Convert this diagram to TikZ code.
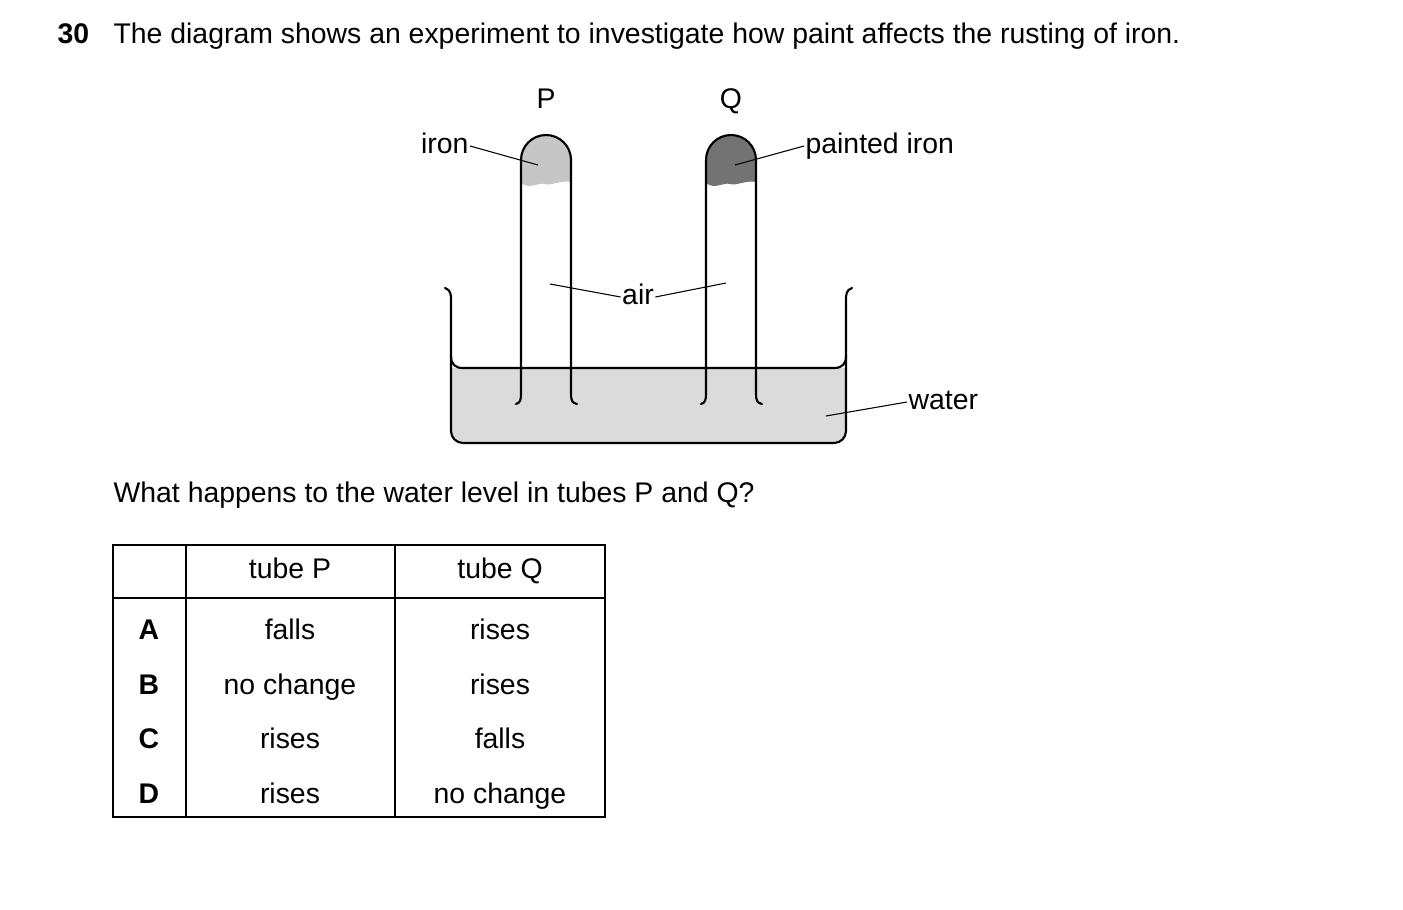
\documentclass[tikz,border=0pt]{standalone}
\usepackage{fontspec}
\setmainfont{Liberation Sans}
\begin{document}
\begin{tikzpicture}[x=0.75pt,y=-0.75pt,
  ln/.style={line width=1.6pt,line cap=round,line join=round},
  lead/.style={line width=0.8pt},
  txt/.style={font=\fontsize{21.3}{25}\selectfont,inner sep=1pt,text height=15pt,text depth=4pt},
  cell/.style={font=\fontsize{21.3}{25}\selectfont,anchor=center,text height=15pt,text depth=4pt}]
\useasboundingbox (0,0) rectangle (1403,910);
% header
\node[txt,anchor=west,font=\fontsize{21.3}{25}\selectfont\bfseries] (num) at (56,36) {30};
\node[txt,anchor=west] (q1) at (112,36) {The diagram shows an experiment to investigate how paint affects the rusting of iron.};
% water
\fill[gray!28] (451,368) -- (846,368) -- (846,431) arc (0:90:12) -- (463,443) arc (90:180:12) -- cycle;
% iron fills
\fill[gray!45] (521,160) arc (180:360:25) -- (571,182) .. controls (560,180) and (552,186) .. (545,184) .. controls (538,182) and (530,190) .. (521,183) -- cycle;
\fill[black!55] (706,160) arc (180:360:25) -- (756,182) .. controls (745,180) and (737,186) .. (730,184) .. controls (723,182) and (715,190) .. (706,183) -- cycle;
% beaker
\draw[ln] (445,288) .. controls (451,290) and (451,295) .. (451,300) -- (451,431) arc (180:90:12) -- (834,443) arc (90:0:12) -- (846,300) .. controls (846,295) and (846,290) .. (852,288);
\draw[ln] (451,356) .. controls (451,364) and (455,368) .. (463,368) -- (834,368) .. controls (842,368) and (846,364) .. (846,356);
% tubes
\draw[ln] (516,404) .. controls (520,403) and (521,400) .. (521,394) -- (521,160) arc (180:360:25) -- (571,394) .. controls (571,400) and (572,403) .. (577,404);
\draw[ln] (701,404) .. controls (705,403) and (706,400) .. (706,394) -- (706,160) arc (180:360:25) -- (756,394) .. controls (756,400) and (757,403) .. (762,404);
% labels
\node[txt] (P) at (546,101) {P};
\node[txt] (Q) at (731,101) {Q};
\node[txt,anchor=east] (iron) at (470,146) {iron};
\coordinate (ironE) at (538,165);
\draw[lead] (iron.east) -- (ironE);
\node[txt,anchor=west] (piron) at (804,146) {painted iron};
\coordinate (pironE) at (735,165);
\draw[lead] (piron.west) -- (pironE);
\node[txt] (air) at (638,297) {air};
\coordinate (airP) at (550,284);
\coordinate (airQ) at (726,283);
\draw[lead] (air.west) -- (airP);
\draw[lead] (air.east) -- (airQ);
\node[txt,anchor=west] (water) at (907,402) {water};
\coordinate (waterE) at (826,416);
\draw[lead] (water.west) -- (waterE);
% question
\node[txt,anchor=west] (q2) at (112,495) {What happens to the water level in tubes P and Q?};
% table
\draw[line width=1pt] (113,545) rectangle (605,817);
\draw[line width=1pt] (113,598) -- (605,598);
\draw[line width=1pt] (186,545) -- (186,817);
\draw[line width=1pt] (395,545) -- (395,817);
\node[cell] (hP) at (290,571) {tube P};
\node[cell] (hQ) at (500,571) {tube Q};
\node[cell,font=\fontsize{21.3}{25}\selectfont\bfseries] (A) at (149,632) {A};
\node[cell,font=\fontsize{21.3}{25}\selectfont\bfseries] (B) at (149,687) {B};
\node[cell,font=\fontsize{21.3}{25}\selectfont\bfseries] (C) at (149,741) {C};
\node[cell,font=\fontsize{21.3}{25}\selectfont\bfseries] (D) at (149,796) {D};
\node[cell] (A1) at (290,632) {falls};
\node[cell] (A2) at (500,632) {rises};
\node[cell] (B1) at (290,687) {no change};
\node[cell] (B2) at (500,687) {rises};
\node[cell] (C1) at (290,741) {rises};
\node[cell] (C2) at (500,741) {falls};
\node[cell] (D1) at (290,796) {rises};
\node[cell] (D2) at (500,796) {no change};
\end{tikzpicture}
\end{document}
